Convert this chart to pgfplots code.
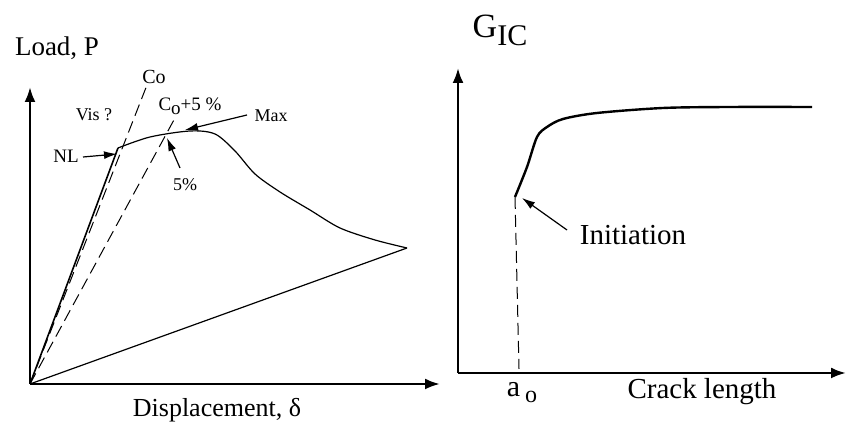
\documentclass[border=0pt]{standalone}
\usepackage{fontspec}
\setmainfont{Liberation Serif}
\usepackage{pgfplots}
\pgfplotsset{compat=1.18}
\usetikzlibrary{arrows.meta}

% schematic axes: 1 unit = 1 pixel of the sketch = 0.5pt
\pgfplotsset{sketch/.style={
    scale only axis, x=0.5pt, y=0.5pt,
    axis lines=left, ticks=none, clip=false,
    x axis line style={line width=1.3pt, -{Latex[length=7.5pt,width=5.5pt]}},
    y axis line style={line width=1.3pt, -{Latex[length=7.5pt,width=5.5pt]}},
}}
\tikzset{note/.style={-{Latex[length=6.5pt,width=4pt]}, line width=0.6pt}}

\begin{document}
\begin{tikzpicture}
\useasboundingbox (0,0) rectangle (425pt,215.5pt);

% ---- Load / displacement
\begin{axis}[sketch, at={(15pt,23.5pt)}, anchor=south west,
    xmin=0, xmax=410, ymin=0, ymax=297]
  % loading line up to NL
  \addplot[black, line width=0.8pt] coordinates {(0,0) (88,236)};
  % load curve
  \addplot[black, line width=0.6pt, smooth] coordinates {
    (88,236) (120,247) (160,253) (185,250) (205,233) (225,210)
    (250,192) (280,174) (310,156) (345,144) (377,136)};
  % unloading
  \addplot[black, line width=0.6pt] coordinates {(0,0) (377,136)};
  % Co and Co+5% compliance lines
  \addplot[black, line width=0.5pt, dash pattern=on 6pt off 3pt] coordinates {(0,0) (117,299)};
  \addplot[black, line width=0.5pt, dash pattern=on 6pt off 3pt] coordinates {(0,0) (145,266)};

  \node[font=\fontsize{13.5}{15}\selectfont] at (axis cs:27,336) {Load, P};
  \node[font=\fontsize{10}{12}\selectfont] at (axis cs:124,307) {Co};
  \node[font=\fontsize{9}{11}\selectfont] at (axis cs:64,269) {Vis ?};
  \node[font=\fontsize{9.5}{11}\selectfont] at (axis cs:160,278) {C\raisebox{-2pt}{o}+5 \%};
  \node[font=\fontsize{9}{11}\selectfont] at (axis cs:241,268) {Max};
  \node[font=\fontsize{9.5}{11}\selectfont] at (axis cs:36,228) {NL};
  \node[font=\fontsize{9}{11}\selectfont] at (axis cs:155,199) {5\%};
  \draw[note] (axis cs:53,227) -- (axis cs:87,230);
  \draw[note] (axis cs:217,269) -- (axis cs:155,254);
  \draw[note] (axis cs:150,216) -- (axis cs:137,246);
  \node[font=\fontsize{13}{15}\selectfont] at (axis cs:187,-26) {Displacement, δ};
\end{axis}

% ---- Resistance curve
\begin{axis}[sketch, at={(229pt,29pt)}, anchor=south west,
    xmin=0, xmax=388, ymin=0, ymax=305]
  \addplot[black, line width=1.2pt, smooth] coordinates {
    (57,176) (69,206) (79,236) (89,246) (105,254) (139,260)
    (205,265) (272,266) (354,266)};
  \addplot[black, line width=0.5pt, dash pattern=on 6pt off 3pt] coordinates {(57,176) (61,4)};

  \node[font=\fontsize{17}{19}\selectfont] at (axis cs:42,343) {G\raisebox{-4pt}{\fontsize{15}{17}\selectfont IC}};
  \node[font=\fontsize{14.5}{17}\selectfont] at (axis cs:175,138) {Initiation};
  \draw[note] (axis cs:109,143) -- (axis cs:64,175);
  \node[font=\fontsize{15}{17}\selectfont] at (axis cs:64,-20) {a\,\raisebox{-3pt}{\fontsize{12}{14}\selectfont o}};
  \node[font=\fontsize{14.5}{17}\selectfont] at (axis cs:244,-19) {Crack length};
\end{axis}
\end{tikzpicture}
\end{document}
